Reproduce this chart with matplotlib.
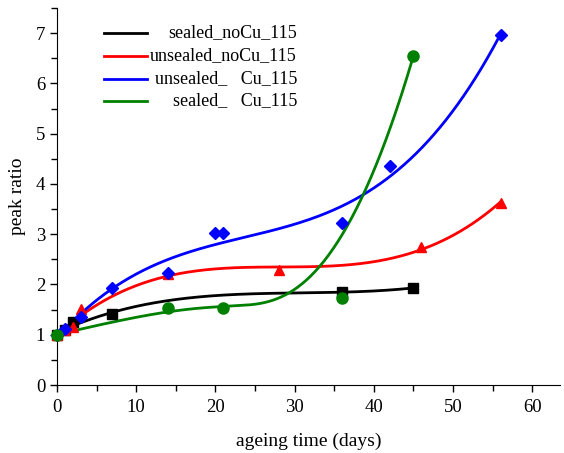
import numpy as np
import matplotlib
matplotlib.use("Agg")
import matplotlib.pyplot as plt
from matplotlib.lines import Line2D
from matplotlib.ticker import MultipleLocator

plt.rcParams['font.family'] = ['Liberation Serif', 'DejaVu Serif']
plt.rcParams['font.size'] = 13

# data
sealed_noCu_x = [0, 1, 2, 7, 36, 45]
sealed_noCu_y = [1.0, 1.1, 1.25, 1.42, 1.85, 1.93]

unsealed_noCu_x = [0, 1, 2, 3, 14, 28, 46, 56]
unsealed_noCu_y = [1.0, 1.1, 1.15, 1.52, 2.2, 2.28, 2.75, 3.62]

unsealed_Cu_x = [0, 1, 3, 7, 14, 20, 21, 36, 42, 56]
unsealed_Cu_y = [1.0, 1.12, 1.35, 1.92, 2.22, 3.02, 3.02, 3.22, 4.35, 6.97]

sealed_Cu_x = [0, 14, 21, 36, 45]
sealed_Cu_y = [1.0, 1.53, 1.53, 1.73, 6.55]

# (label, x, y, colour, marker, curve type)
series = [
    ("sealed_noCu_115", sealed_noCu_x, sealed_noCu_y, "black", "s", "poly"),
    ("unsealed_noCu_115", unsealed_noCu_x, unsealed_noCu_y, "red", "^", "poly"),
    ("unsealed_   Cu_115", unsealed_Cu_x, unsealed_Cu_y, "blue", "D", "poly"),
    ("sealed_   Cu_115", sealed_Cu_x, sealed_Cu_y, "green", "o", "bspline"),
]


def bspline(px, py, k=3, n=400):
    """clamped B-spline with the data points as control points"""
    px = np.asarray(px, float)
    py = np.asarray(py, float)
    m = len(px)
    inner = np.linspace(0, 1, m - k + 1)
    knots = np.concatenate([np.zeros(k), inner, np.ones(k)])
    t = np.linspace(0, 1 - 1e-9, n)

    def basis(i, d, t):
        if d == 0:
            return ((knots[i] <= t) & (t < knots[i + 1])).astype(float)
        out = np.zeros_like(t)
        den1 = knots[i + d] - knots[i]
        den2 = knots[i + d + 1] - knots[i + 1]
        if den1 > 0:
            out += (t - knots[i]) / den1 * basis(i, d - 1, t)
        if den2 > 0:
            out += (knots[i + d + 1] - t) / den2 * basis(i + 1, d - 1, t)
        return out

    B = np.array([basis(i, k, t) for i in range(m)])
    xs = B.T @ px
    ys = B.T @ py
    return np.append(xs, px[-1]), np.append(ys, py[-1])


fig = plt.figure(figsize=(5.64, 4.53), dpi=100)
ax = fig.add_axes([57 / 564, 1 - 385 / 453, (560 - 57) / 564, (385 - 8) / 453])

for label, xs, ys, color, marker, kind in series:
    xs = np.array(xs, float)
    ys = np.array(ys, float)
    ms = {"o": 8, "s": 7, "^": 7.5, "D": 6.5}[marker]
    ax.plot(xs, ys, linestyle="none", marker=marker, color=color,
            markersize=ms, clip_on=False, zorder=3)
    if kind == "poly":
        coef = np.polyfit(xs, ys, 3)
        xf = np.linspace(xs.min(), xs.max(), 300)
        yf = np.polyval(coef, xf)
    else:
        xf, yf = bspline(xs, ys)
    ax.plot(xf, yf, color=color, lw=2, zorder=2)

ax.set_xlim(0, 63.5)
ax.set_ylim(0, 7.5)
ax.xaxis.set_major_locator(MultipleLocator(10))
ax.xaxis.set_minor_locator(MultipleLocator(5))
ax.yaxis.set_major_locator(MultipleLocator(1))
ax.yaxis.set_minor_locator(MultipleLocator(0.5))
ax.tick_params(which="both", direction="out", width=1, labelsize=13.5)
ax.tick_params(which="major", length=5)
ax.tick_params(which="minor", length=4)
ax.tick_params(axis="x", pad=5)
ax.spines["top"].set_visible(False)
ax.spines["right"].set_visible(False)
ax.set_xlabel("ageing time (days)", fontsize=14, labelpad=12)
ax.set_ylabel("peak ratio", fontsize=14, labelpad=7)

# legend drawn as in the reference: short lines with right-aligned labels
row_y = [33, 56, 79, 101]
for (label, xs, ys, color, marker, kind), py in zip(series, row_y):
    yf = 1 - py / 453
    fig.add_artist(Line2D([104 / 564, 147 / 564], [yf, yf], color=color, lw=2,
                          transform=fig.transFigure))
    fig.text(297 / 564, yf, label, ha="right", va="center", fontsize=13)

fig.savefig("out.png", dpi=100)
